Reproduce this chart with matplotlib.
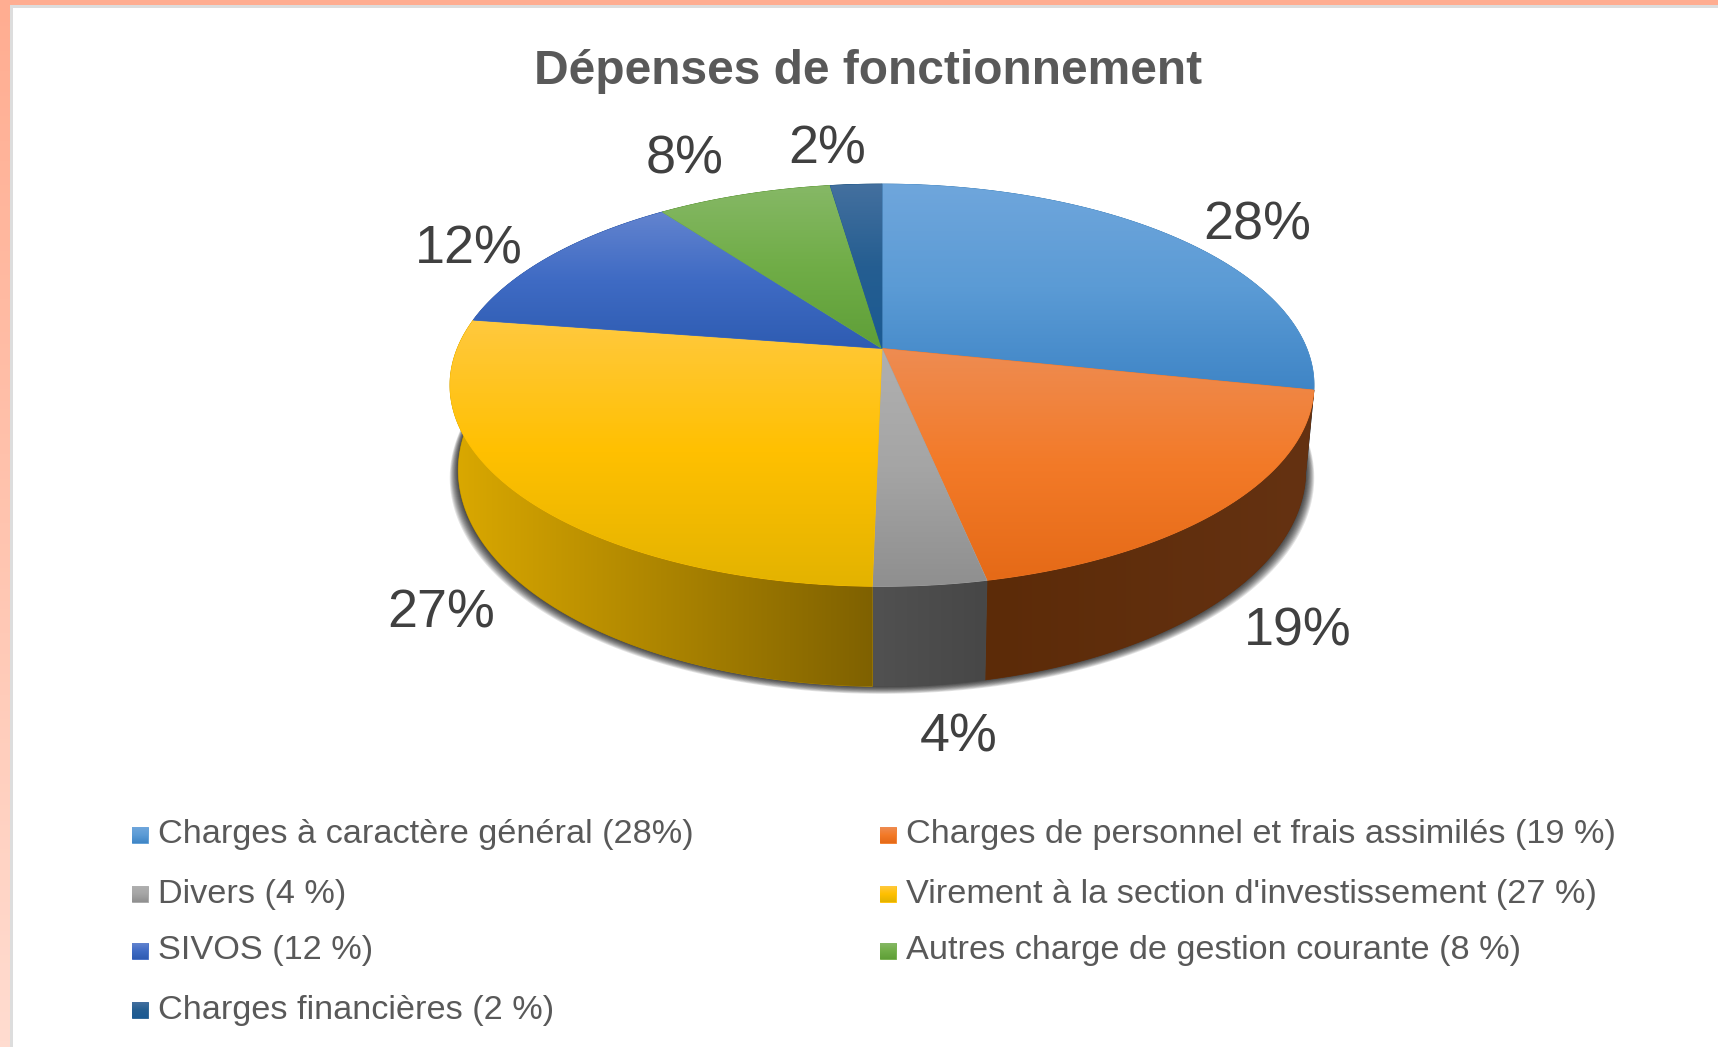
import numpy as np
import matplotlib
matplotlib.use("Agg")
import matplotlib.pyplot as plt
from matplotlib.colors import LinearSegmentedColormap, to_rgb
from matplotlib.patches import Polygon

title = "Dépenses de fonctionnement"
shares = [28.3, 18.45, 3.55, 27.1, 12.5, 7.8, 2.3]
pct_labels = ["28%", "19%", "4%", "27%", "12%", "8%", "2%"]
legend_labels = [
    "Charges à caractère général (28%)",
    "Charges de personnel et frais assimilés (19 %)",
    "Divers (4 %)",
    "Virement à la section d'investissement (27 %)",
    "SIVOS (12 %)",
    "Autres charge de gestion courante (8 %)",
    "Charges financières (2 %)",
]

# light, base, dark for the top faces
top_cols = [
    ("#6FA6DC", "#5B9BD5", "#3F85C6"),
    ("#EE8C52", "#F37A28", "#E56A17"),
    ("#B0B0B0", "#A5A5A5", "#8F8F8F"),
    ("#FFC93F", "#FFC000", "#E3B300"),
    ("#6384CF", "#3F6BC4", "#2E5CB2"),
    ("#86B866", "#70AD47", "#5F9F38"),
    ("#44709F", "#255E91", "#1B5A93"),
]
# left and right colour of the outer walls
wall_cols = [
    ("#2F6A9C", "#2F6A9C"),
    ("#5C2B08", "#653212"),
    ("#515151", "#474747"),
    ("#DBA900", "#7F6100"),
    ("#264478", "#264478"),
    ("#43682B", "#43682B"),
    ("#153E5E", "#153E5E"),
]
label_pos = [(1257, 226), (1298, 632), (959, 738), (441, 613), (469, 250), (685, 159), (827, 150)]

cx, cy = 882, 348.5
a, b, k = 424.7, 194.4, 0.1826
low_sx, low_sy, low_y = 0.981, 1.075, 430.7

W, H = 1718, 1047
plt.rcParams["font.family"] = ["Liberation Sans", "DejaVu Sans"]
fig = plt.figure(figsize=(W / 100, H / 100), dpi=100)
ax = fig.add_axes([0, 0, 1, 1])
ax.axis("off")


def proj(th, sx=1.0, sy=1.0, y0=cy):
    v = -np.cos(th)
    w = 1 - k * v
    return cx + sx * a * np.sin(th) / w, y0 + sy * b * v / w


def grad_fill(pts, cols, vertical=True, z=3):
    pts = np.array(pts)
    ax.add_patch(Polygon(pts, closed=True, fc=cols[1], ec=cols[1], lw=0.6, zorder=z))
    cm = LinearSegmentedColormap.from_list("g", cols)
    g = np.linspace(0, 1, 256)
    g = g[:, None] if vertical else g[None, :]
    x0, x1 = pts[:, 0].min(), pts[:, 0].max()
    y0, y1 = pts[:, 1].min(), pts[:, 1].max()
    im = ax.imshow(g, cmap=cm, extent=[x0, x1, y1, y0], aspect="auto", zorder=z,
                   interpolation="bilinear", vmin=0, vmax=1)
    im.set_clip_path(Polygon(pts, closed=True, transform=ax.transData))


# page border
grad_fill([(0, 0), (10, 0), (10, H), (0, H)], ("#FFAD91", "#FFC4AF", "#FFDCD0"), z=1)
ax.fill([0, W, W, 0], [0, 0, 5, 5], color="#FFAD91", lw=0, zorder=1.2)
ax.fill([10, W, W, 10], [5, 5, 8, 8], color="#DDDDDD", lw=0, zorder=1.2)
ax.fill([10, 13, 13, 10], [5, 5, H, H], color="#DDDDDD", lw=0, zorder=1.2)

edges = np.radians(np.cumsum([0] + shares) * 3.6)

# soft shadow under the pie
t = np.linspace(0, 2 * np.pi, 400)
lx, ly = proj(t, low_sx, low_sy, low_y)
for d in range(1, 11):
    ax.fill(cx + (lx - cx) * (1 + d * 0.85 / 424), ly + d * 0.75, color="black", alpha=0.11, lw=0, zorder=2)

# outer walls, then the top faces
for i in range(len(shares)):
    t = np.linspace(edges[i], edges[i + 1], 120)
    ux, uy = proj(t)
    dx, dy = proj(t, low_sx, low_sy, low_y)
    wall = list(zip(ux, uy)) + list(zip(dx[::-1], dy[::-1]))
    c0, c1 = wall_cols[i]
    mid = tuple((np.array(to_rgb(c0)) + np.array(to_rgb(c1))) / 2)
    grad_fill(wall, (c0, mid, c1), vertical=False, z=3)

for i in range(len(shares)):
    t = np.linspace(edges[i], edges[i + 1], 120)
    ux, uy = proj(t)
    grad_fill([(cx, cy)] + list(zip(ux, uy)), top_cols[i], z=4)

ax.text(868, 71.5, title, ha="center", va="center", fontsize=34.5, fontweight="bold", color="#595959", zorder=6)

for lab, (x, y) in zip(pct_labels, label_pos):
    ax.text(x, y, lab, ha="center", va="center", fontsize=38.8, color="#404040", zorder=6)

# legend, filled row by row
rows = [835, 894, 951, 1010]
cols_x = [132, 880]
for i, lab in enumerate(legend_labels):
    x = cols_x[i % 2]
    y = rows[i // 2]
    grad_fill([(x, y - 8), (x + 16, y - 8), (x + 16, y + 8), (x, y + 8)], top_cols[i], z=5)
    ax.text(x + 25.5, y, lab, ha="left", va="center", fontsize=24.7, color="#595959", zorder=6)

ax.set_xlim(0, W)
ax.set_ylim(H, 0)
fig.savefig("out.png", dpi=100, facecolor="white")
